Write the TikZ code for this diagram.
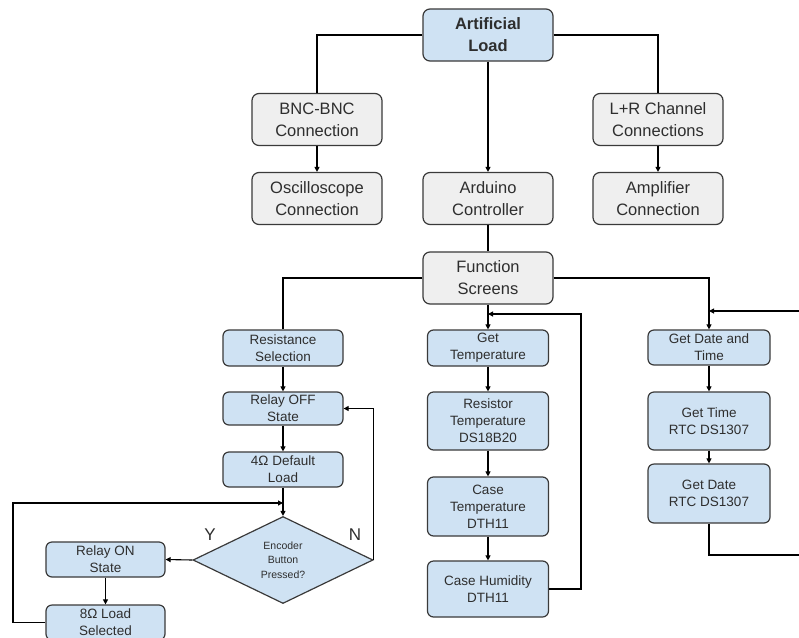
\documentclass[tikz,border=0pt]{standalone}
\usepackage{fontspec}
\setmainfont{Liberation Sans}
\usetikzlibrary{arrows.meta,shapes.geometric}
\definecolor{bluefill}{HTML}{CFE2F3}
\definecolor{grayfill}{HTML}{EFEFEF}
\definecolor{edgecol}{HTML}{3A3A3A}
\definecolor{txtcol}{HTML}{2E2E2E}
\begin{document}
\begin{tikzpicture}[x=1pt,y=-1pt,
  box/.style={draw=edgecol, line width=1.2pt, rounded corners=7pt, align=center, inner sep=0pt, text=txtcol},
  big/.style={box, fill=grayfill, minimum width=130pt, minimum height=52pt, font=\fontsize{16.5}{22}\selectfont},
  small/.style={box, fill=bluefill, rounded corners=6pt, font=\fontsize{13.5}{17}\selectfont},
  conn/.style={draw=black, line width=1.1pt},
  arr/.style={conn, -{Triangle[length=5pt,width=5pt]}},
  yn/.style={text=txtcol, font=\fontsize{17}{17}\selectfont}
]
\useasboundingbox (0,0) rectangle (799,637);
\fill[white] (0,0) rectangle (799,637);
\clip (0,0) rectangle (799,637);

% top level
\node[big, fill=bluefill, font=\fontsize{16.5}{22}\selectfont\bfseries] (art) at (488,35) {Artificial\\Load};
\node[big] (bnc) at (317,119.5) {BNC-BNC\\Connection};
\node[big] (osc) at (317,198.5) {Oscilloscope\\Connection};
\node[big] (ard) at (488,198.5) {Arduino\\Controller};
\node[big] (lr) at (658,119.5) {L+R Channel\\Connections};
\node[big] (amp) at (658,198.5) {Amplifier\\Connection};
\node[big] (fs) at (488,278) {Function\\Screens};

% left column
\node[small, minimum width=120pt, minimum height=36pt] (rs) at (283,348) {Resistance\\Selection};
\node[small, minimum width=120pt, minimum height=33pt] (roff) at (283,408.5) {Relay OFF\\State};
\node[small, minimum width=120pt, minimum height=35pt] (def) at (283,469.5) {4Ω Default\\Load};
\node[draw=edgecol, line width=1.2pt, fill=bluefill, shape=diamond, inner sep=0pt,
      minimum width=180pt, minimum height=87pt, align=center, text=txtcol,
      font=\fontsize{10.5}{14.5}\selectfont] (dia) at (283,560) {Encoder\\Button\\Pressed?};
\node[small, minimum width=119pt, minimum height=35pt] (ron) at (105.5,559.5) {Relay ON\\State};
\node[small, minimum width=119pt, minimum height=35pt] (r8) at (105.5,622.5) {8Ω Load\\Selected};
\node[yn] (ylab) at (210,535) {Y};
\node[yn] (nlab) at (355,535) {N};

% middle column
\node[small, minimum width=121pt, minimum height=36pt] (gt) at (488,348) {Get\\Temperature};
\node[small, minimum width=121pt, minimum height=58pt] (rt) at (488,421) {Resistor\\Temperature\\DS18B20};
\node[small, minimum width=121pt, minimum height=59pt] (ct) at (488,506.5) {Case\\Temperature\\DTH11};
\node[small, minimum width=121pt, minimum height=56pt] (ch) at (488,589) {Case Humidity\\DTH11};

% right column
\node[small, minimum width=122pt, minimum height=35pt] (gdt) at (709,347.5) {Get Date and\\Time};
\node[small, minimum width=122pt, minimum height=58pt] (gtime) at (709,421) {Get Time\\RTC DS1307};
\node[small, minimum width=122pt, minimum height=59pt] (gdate) at (709,493.5) {Get Date\\RTC DS1307};

% coordinates for loose ends
\coordinate (gtin) at (488,314);
\coordinate (chret) at (581,314);
\coordinate (gdout) at (799,555);
\coordinate (gdin) at (799,311);
\coordinate (gdjoin) at (709,311);
\coordinate (loopL) at (13,503);
\coordinate (loopin) at (283,503);

% connectors
\draw[conn] (art.west) -| (bnc.north);
\draw[conn] (art.east) -| (lr.north);
\draw[arr] (art.south) -- (ard.north);
\draw[arr] (bnc.south) -- (osc.north);
\draw[arr] (lr.south) -- (amp.north);
\draw[conn] (ard.south) -- (fs.north);
\draw[conn] (fs.west) -| (rs.north);
\draw[arr] (fs.east) -| (gdt.north);
\draw[arr] (fs.south) -- (gt.north);
\draw[arr] (rs.south) -- (roff.north);
\draw[arr] (roff.south) -- (def.north);
\draw[arr] (def.south) -- (dia.north);
\draw[arr] (gt.south) -- (rt.north);
\draw[arr] (rt.south) -- (ct.north);
\draw[arr] (ct.south) -- (ch.north);
\draw[arr] (gdt.south) -- (gtime.north);
\draw[arr] (gtime.south) -- (gdate.north);
\draw[arr] (ch.east) -| (chret) -- (gtin);
\draw[conn] (gdate.south) |- (gdout);
\draw[arr] (gdin) -- (gdjoin);
\draw[arr] (dia.east) |- (roff.east);
\draw[arr] (dia.west) -- (ron.east);
\draw[arr] (ron.south) -- (r8.north);
\draw[arr] (r8.west) -| (loopL) -- (loopin);
\end{tikzpicture}
\end{document}
